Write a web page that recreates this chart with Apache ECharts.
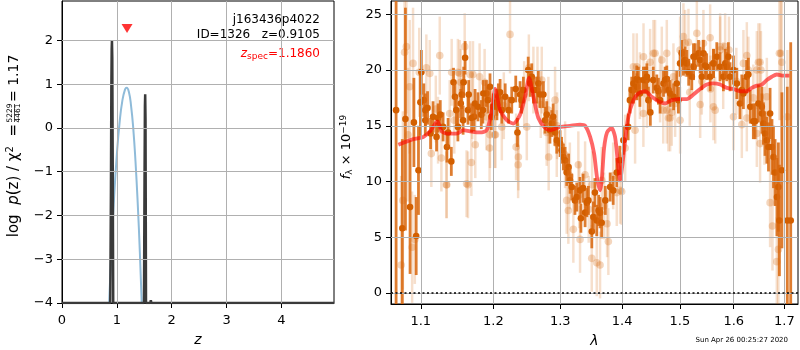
<!DOCTYPE html>
<html>
<head>
<meta charset="utf-8">
<script src="https://cdn.jsdelivr.net/npm/echarts@6/dist/echarts.min.js"></script>
<style>
html, body { margin: 0; padding: 0; background: #fff; }
#chart { width: 800px; height: 350px; }
</style>
</head>
<body>
<div id="chart"></div>
<script>
// ---- redshift probability panel ----
const pzZ   = [0, 0.88, 0.892, 0.9, 0.906, 0.911, 0.917, 0.924, 0.934, 1.495, 1.505, 1.512, 1.517, 1.523, 1.532, 1.61, 1.62, 1.63, 4.96];
const pzLog = [-4, -4, -1.5, 0.9, 1.8, 2.0, 1.6, -0.5, -4, -4, -1.2, 0.5, 0.77, 0.2, -4, -4, -3.94, -4, -4];
const priorZ   = [0.86, 0.9, 0.95, 1.0, 1.05, 1.1, 1.15, 1.18, 1.22, 1.26, 1.3, 1.34, 1.38, 1.42, 1.454];
const priorLog = [-4.0, -2.78, -1.58, -0.61, 0.12, 0.62, 0.88, 0.92, 0.82, 0.5, -0.02, -0.76, -1.7, -2.85, -4.0];
const zSpec = 1.186;
const zSpecMarkerY = 2.27;
const zTicks = [0, 1, 2, 3, 4];
const logpTicks = [-4, -3, -2, -1, 0, 1, 2];

// ---- 1D spectrum panel ----
const waveTicks = [1.1, 1.2, 1.3, 1.4, 1.5, 1.6, 1.7];
const fluxTicks = [0, 5, 10, 15, 20, 25];

// well-measured pixels: wavelength (micron), flux, 1-sigma error
const darkWave = [
  1.068, 1.076, 1.080, 1.086, 1.091, 1.094, 1.097, 1.0995, 1.1008, 1.104, 1.106, 1.1061, 1.109, 1.113, 1.1163, 1.121, 1.1230, 1.126, 1.1298, 1.135, 1.1366, 1.141, 1.144, 1.146, 1.1479, 1.150, 1.154, 1.1553, 1.1572, 1.158, 1.160, 1.1640, 1.165, 1.169, 1.1725, 1.1739, 1.178, 1.1827, 1.185, 1.1856, 1.1899, 1.192, 1.1951, 1.197, 1.1997,
  1.2048, 1.205, 1.2071, 1.2096, 1.2121, 1.217, 1.222, 1.2266, 1.2325, 1.235, 1.2389, 1.241, 1.2438, 1.251, 1.254, 1.2563, 1.2588, 1.264, 1.2663, 1.2689, 1.274, 1.2765, 1.2791, 1.284, 1.2868, 1.289, 1.2919, 1.2945, 1.2997, 1.302, 1.3048, 1.3075, 1.3101, 1.313, 1.3153, 1.318, 1.323, 1.3259, 1.331, 1.3325, 1.336, 1.3392, 1.342, 1.3445, 1.350, 1.3526, 1.355, 1.3580, 1.361, 1.3634, 1.366,
  1.372, 1.380, 1.385, 1.391, 1.396, 1.402, 1.410, 1.413, 1.4161, 1.4189, 1.419, 1.4247, 1.425, 1.4274, 1.430, 1.436, 1.4389, 1.4418, 1.442, 1.4446, 1.448, 1.453, 1.4592, 1.462, 1.4650, 1.471, 1.4738, 1.4768, 1.480, 1.4827, 1.489, 1.4946, 1.4975, 1.5005, 1.5035, 1.5065, 1.5096, 1.5127, 1.516, 1.5217, 1.5247, 1.525, 1.5278, 1.534, 1.5370, 1.540, 1.543, 1.5462, 1.549, 1.5555, 1.5616, 1.562, 1.5679, 1.574, 1.5803, 1.584, 1.5868, 1.5898, 1.593, 1.5995, 1.606, 1.612, 1.6156, 1.6187, 1.625, 1.6284, 1.632, 1.638, 1.6415, 1.648, 1.6547, 1.655, 1.6579, 1.661, 1.6647, 1.668, 1.6712, 1.675, 1.678, 1.6812, 1.685, 1.6879, 1.690, 1.695, 1.706, 1.713];
const darkFlux = [
  16.4, 5.8, 15.6, 7.7, 15.3, 5.1, 11.0, 17.1, 19.8, 17.3, 15.5, 16.4, 16.6, 14.3, 15.8, 14.0, 15.7, 16.0, 14.9, 13.1, 14.4, 11.8, 18.9, 17.6, 16.4, 14.9, 17.0, 17.8, 15.5, 18.9, 21.1, 16.4, 17.8, 15.7, 15.8, 17.0, 16.7, 16.0, 16.4, 17.9, 17.9, 17.3, 18.5, 15.8, 16.7,
  17.1, 16.7, 17.6, 18.0, 16.4, 17.6, 16.4, 17.3, 18.3, 14.4, 17.8, 17.3, 18.2, 20.0, 18.8, 19.4, 18.2, 18.2, 18.8, 17.8, 17.8, 15.5, 16.0, 14.6, 15.2, 15.8, 14.4, 13.7, 13.4, 12.8, 12.2, 11.9, 10.8, 11.3, 10.1, 9.5, 8.3, 8.6, 9.2, 6.7, 9.4, 7.2, 8.1, 8.3, 5.5, 6.8, 9.0, 6.5, 7.4, 7.2, 6.3,
  8.3, 9.5, 9.2, 10.8, 11.9, 13.7, 14.9, 17.3, 18.2, 18.2, 18.8, 19.2, 18.5, 19.1, 17.9, 19.1, 19.1, 19.1, 19.4, 17.3, 16.2, 19.1, 18.4, 18.1, 17.3, 18.8, 19.1, 19.2, 18.2, 17.9, 17.6, 18.8, 17.3, 20.6, 21.5, 20.7, 20.9, 20.6, 19.8, 19.4, 21.2, 20.3, 21.2, 21.5, 20.9, 19.4, 21.5, 20.4, 20.3, 19.4, 20.6, 20.6, 21.2, 20.3, 19.4, 20.6, 20.3, 21.2, 19.4, 20.0, 18.8, 17.0, 18.2, 17.9, 19.4, 19.6, 16.7, 15.4, 15.4, 17.0, 16.7, 16.1, 15.2, 14.3, 13.7, 13.1, 16.1, 13.1, 12.2, 10.8, 8.6, 9.5, 6.5, 11.0, 6.5, 6.5];
const darkErr = [
  20, 8, 10, 6, 4, 3.5, 4, 3, 2, 1.5, 1.4, 1.5, 1.5, 1.4, 1.4, 1.3, 1.3, 1.3, 1.3, 1.4, 1.3, 1.3, 1.3, 1.3, 1.3, 1.3, 1.3, 1.3, 1.3, 1.4, 1.5, 1.3, 1.3, 1.3, 1.3, 1.3, 1.3, 1.3, 1.2, 1.2, 1.2, 1.2, 1.2, 1.2, 1.2,
  1.2, 1.2, 1.2, 1.2, 1.2, 1.2, 1.2, 1.2, 1.2, 1.3, 1.2, 1.2, 1.2, 1.2, 1.2, 1.2, 1.2, 1.2, 1.2, 1.2, 1.2, 1.2, 1.2, 1.2, 1.2, 1.2, 1.2, 1.2, 1.2, 1.2, 1.2, 1.2, 1.2, 1.2, 1.2, 1.2, 1.3, 1.3, 1.2, 1.3, 1.3, 1.3, 1.3, 1.3, 1.5, 1.4, 1.3, 1.4, 1.4, 1.4, 1.4,
  1.3, 1.3, 1.3, 1.3, 1.3, 1.3, 1.2, 1.2, 1.2, 1.2, 1.2, 1.2, 1.2, 1.2, 1.2, 1.2, 1.2, 1.2, 1.2, 1.2, 1.2, 1.2, 1.2, 1.2, 1.2, 1.2, 1.2, 1.2, 1.2, 1.2, 1.2, 1.2, 1.2, 1.2, 1.2, 1.2, 1.2, 1.2, 1.2, 1.2, 1.2, 1.2, 1.2, 1.2, 1.2, 1.2, 1.2, 1.2, 1.2, 1.3, 1.3, 1.3, 1.3, 1.3, 1.3, 1.3, 1.3, 1.3, 1.3, 1.3, 1.4, 1.4, 1.4, 1.4, 1.5, 1.5, 1.5, 1.6, 1.6, 1.7, 1.8, 1.8, 1.9, 2.0, 2.1, 2.2, 2.3, 2.5, 2.8, 3.0, 3.5, 4.0, 5, 7, 12, 16];

// noisier pixels from the second visit
const lightWave = [1.0745, 1.0767, 1.0789, 1.0812, 1.0834, 1.0855, 1.0887, 1.0899, 1.0922, 1.0980, 1.1074, 1.1119, 1.1140, 1.1200, 1.1230, 1.1253, 1.1275, 1.1342, 1.1348, 1.1388, 1.1415, 1.1450, 1.1500, 1.1525, 1.1540, 1.1594, 1.1620, 1.1640, 1.1669, 1.1687, 1.1700, 1.1710, 1.1742, 1.1803, 1.1874, 1.1900, 1.1945, 1.1951, 1.2017, 1.2030, 1.2121, 1.2150, 1.2241, 1.2330, 1.2360, 1.2364, 1.2450, 1.2489, 1.2520, 1.2588, 1.2650, 1.2700, 1.2715, 1.2790, 1.2816, 1.2820, 1.2919, 1.2945, 1.2950, 1.3075, 1.3100, 1.3126, 1.3150, 1.3205, 1.3284, 1.3300, 1.3311, 1.3392, 1.3450, 1.3499, 1.3505, 1.3580, 1.3634, 1.3662, 1.3700, 1.3749, 1.3770, 1.3850, 1.3909, 1.3964, 1.3992, 1.4050, 1.4189, 1.4218, 1.4247, 1.4300, 1.4360, 1.4362, 1.4420, 1.4476, 1.4533, 1.4562, 1.4650, 1.4680, 1.4705, 1.4768, 1.4768, 1.4797, 1.4827, 1.4856, 1.4886, 1.4916, 1.5005, 1.5005, 1.5065, 1.5096, 1.5156, 1.5180, 1.5309, 1.5370, 1.5400, 1.5430, 1.5555, 1.5560, 1.5616, 1.5649, 1.5742, 1.5742, 1.5800, 1.5836, 1.5910, 1.5995, 1.6050, 1.6156, 1.6187, 1.6253, 1.6253, 1.6284, 1.6380, 1.6449, 1.6449, 1.6480, 1.6513, 1.6513, 1.6530, 1.6600, 1.6647, 1.6712, 1.6760, 1.6847, 1.6879, 1.6899, 1.6927, 1.6948, 1.7062];
const lightFlux = [2.5, 8.3, 21.6, 22.1, 14.2, 18.5, 4.1, 20.6, 4.8, 19.8, 20.2, 19.7, 12.5, 16.5, 14.6, 21.3, 12.1, 9.7, 9.7, 16.1, 19.8, 15.5, 19.8, 19.7, 18.9, 22.1, 9.8, 9.7, 19.6, 11.7, 16.8, 19.6, 13.3, 19.4, 18.9, 15.8, 13.0, 14.2, 14.2, 14.2, 14.9, 16.8, 23.2, 13.1, 11.5, 12.2, 17.8, 14.9, 20.2, 19.1, 19.1, 16.9, 19.1, 14.4, 16.4, 12.2, 17.3, 13.4, 15.0, 12.4, 8.3, 7.4, 10.5, 5.7, 11.5, 8.8, 4.8, 10.6, 7.5, 3.1, 9.7, 2.7, 2.5, 10.1, 7.8, 6.2, 4.6, 10.5, 9.0, 9.2, 9.1, 13.0, 20.3, 14.6, 20.3, 18.6, 16.1, 21.2, 17.8, 20.7, 21.5, 21.5, 18.3, 20.9, 16.4, 21.5, 16.4, 15.7, 15.7, 16.2, 19.4, 17.0, 15.5, 21.8, 23.0, 22.4, 22.5, 18.0, 23.3, 16.9, 19.0, 22.4, 22.9, 18.3, 16.7, 16.4, 21.8, 22.1, 19.5, 22.1, 21.8, 15.8, 19.0, 15.1, 20.6, 21.3, 15.7, 20.0, 17.5, 14.3, 20.0, 20.7, 13.4, 20.7, 20.0, 15.0, 17.6, 8.1, 6.0, 2.8, 3.9, 21.5, 21.5, 20.7, 15.8];
const lightErr = [8, 8, 8, 6, 6, 6, 5, 5, 4, 4, 3, 3, 3, 3, 3, 3.5, 3, 3, 3, 3, 3, 3, 3, 3, 3, 3, 3, 3, 3, 3, 3, 3, 3, 3, 3, 3, 3, 3, 3, 3, 3, 3, 3.5, 3, 3, 3, 3, 3, 3, 3, 3, 3, 3, 3, 3, 3, 3, 3, 3, 3, 3, 3, 3, 3, 3, 3, 3, 3, 3, 3, 3, 3, 3, 3, 3, 3, 3, 3, 3, 3, 3, 3, 3, 3, 3, 3, 3, 3, 3, 3, 3, 3, 3, 3, 3, 3, 3, 3, 3, 3, 3, 3, 3, 3, 3, 3, 3, 3, 3, 3, 3, 3, 3, 3, 3, 3, 3, 3, 3, 3, 3, 3, 3, 3, 3, 3, 3, 3, 3, 3, 3.5, 3.5, 3.5, 3.5, 3.5, 3.5, 3.5, 4, 4, 4, 5, 6, 6, 7, 6, 8, 10];

// best-fit template
const modelWave = [1.0709, 1.0903, 1.1034, 1.1123, 1.1221, 1.1280, 1.1348, 1.1485, 1.1576, 1.1669, 1.1809, 1.1905, 1.1976, 1.2024, 1.2096, 1.2193, 1.2290, 1.2389, 1.2463, 1.2523, 1.2588, 1.2663, 1.2765, 1.2842, 1.2997, 1.3153, 1.3311, 1.3392, 1.3473, 1.3537, 1.3586, 1.3634, 1.3667, 1.3700, 1.3749, 1.3823, 1.3881, 1.3931, 1.3964, 1.4006, 1.4049, 1.4104, 1.4189, 1.4274, 1.4389, 1.4505, 1.4620, 1.4738, 1.4856, 1.5005, 1.5127, 1.5247, 1.5370, 1.5493, 1.5616, 1.5742, 1.5868, 1.5995, 1.6123, 1.6253, 1.6350, 1.6449, 1.6547, 1.6647, 1.6746, 1.6847, 1.6981, 1.7104];
const modelFlux = [13.3, 13.8, 14.0, 14.5, 15.4, 14.5, 14.3, 14.3, 14.6, 14.5, 14.4, 14.6, 16.4, 18.3, 16.4, 15.5, 15.2, 16.0, 17.6, 19.3, 17.6, 15.7, 14.8, 14.6, 14.9, 15.0, 15.1, 15.0, 14.0, 12.5, 10.3, 9.2, 10.5, 13.0, 14.4, 14.8, 14.0, 11.5, 10.1, 11.6, 13.7, 15.8, 17.3, 17.9, 18.1, 17.6, 17.2, 17.0, 17.3, 17.4, 17.4, 17.8, 18.3, 18.7, 18.8, 18.7, 18.4, 18.3, 18.1, 18.1, 18.4, 18.6, 18.7, 19.1, 19.4, 19.6, 19.5, 19.5];

const FONT = 'DejaVu Sans';
const ORANGE = '#d35f00';
const GRID_GRAY = '#b0b0b0';

function fmtMinus(v) {
  return v < 0 ? '\u2212' + Math.abs(v) : String(v);
}

function zip3(a, b, c) {
  return a.map((v, i) => [v, b[i], c[i]]);
}

// point with vertical error bar, positioned through the axis scales
function errorBarItem(barColor, barOpacity, barWidth, dotColor, dotOpacity, radius) {
  return function (params, api) {
    const x = api.value(0), y = api.value(1), e = api.value(2);
    const c = api.coord([x, y]);
    const hi = api.coord([x, y + e]);
    const lo = api.coord([x, y - e]);
    return {
      type: 'group',
      children: [
        { type: 'line', shape: { x1: c[0], y1: hi[1], x2: c[0], y2: lo[1] },
          style: { stroke: barColor, lineWidth: barWidth, opacity: barOpacity } },
        { type: 'circle', shape: { cx: c[0], cy: c[1], r: radius },
          style: { fill: dotColor, opacity: dotOpacity } }
      ]
    };
  };
}

// gray reference lines at the tick positions of one panel
function gridLineSeries(xIdx, yIdx, xVals, yVals) {
  return {
    type: 'line', xAxisIndex: xIdx, yAxisIndex: yIdx, data: [], z: 1, silent: true,
    markLine: {
      silent: true, symbol: 'none', animation: false,
      label: { show: false },
      lineStyle: { color: GRID_GRAY, type: 'solid', width: 1, opacity: 1 },
      emphasis: { disabled: true },
      data: xVals.map(v => ({ xAxis: v })).concat(yVals.map(v => ({ yAxis: v })))
    }
  };
}

const axisCommon = {
  axisLine: { show: true, onZero: false, lineStyle: { color: '#000', width: 1 } },
  splitLine: { show: false }
};

function tickCfg(values) {
  return { show: true, inside: false, length: 5, lineStyle: { color: '#000', width: 1 }, customValues: values };
}
function labelCfg(values, margin, formatter) {
  return { customValues: values, margin: margin, color: '#000', fontSize: 13, fontFamily: FONT, formatter: formatter };
}

const chart = echarts.init(document.getElementById('chart'), null, { renderer: 'canvas' });

const gridBase = {
  show: true, borderColor: '#000', borderWidth: 1, backgroundColor: 'rgba(0,0,0,0)',
  containLabel: false, outerBoundsMode: 'none'
};

const option = {
  animation: false,
  backgroundColor: '#fff',
  grid: [
    Object.assign({ left: 62, top: 1, width: 272, height: 302 }, gridBase),
    Object.assign({ left: 391, top: 1, width: 407, height: 303 }, gridBase)
  ],
  xAxis: [
    Object.assign({}, axisCommon, {
      gridIndex: 0, type: 'value', min: 0, max: 4.96, position: 'bottom',
      axisTick: tickCfg(zTicks),
      axisLabel: labelCfg(zTicks, 11, v => fmtMinus(v)),
      name: 'z', nameLocation: 'middle', nameGap: 30,
      nameTextStyle: { fontStyle: 'italic', fontSize: 14, fontFamily: FONT, color: '#000' }
    }),
    Object.assign({}, axisCommon, {
      gridIndex: 1, type: 'log', logBase: 10, min: 1.0615, max: 1.728, position: 'bottom',
      axisTick: tickCfg(waveTicks),
      axisLabel: labelCfg(waveTicks, 11, v => (Math.round(v * 10) / 10).toFixed(1)),
      name: '\u03bb', nameLocation: 'middle', nameGap: 30,
      nameTextStyle: { fontStyle: 'italic', fontSize: 14, fontFamily: FONT, color: '#000' }
    })
  ],
  yAxis: [
    Object.assign({}, axisCommon, {
      gridIndex: 0, type: 'value', min: -4, max: 2.9, position: 'left',
      axisTick: tickCfg(logpTicks),
      axisLabel: labelCfg(logpTicks, 9, v => fmtMinus(v))
    }),
    Object.assign({}, axisCommon, {
      gridIndex: 1, type: 'value', min: -1.0, max: 26.2, position: 'left',
      axisTick: tickCfg(fluxTicks),
      axisLabel: labelCfg(fluxTicks, 9, v => fmtMinus(v))
    })
  ],
  series: [
    gridLineSeries(0, 0, zTicks.filter(v => v > 0), logpTicks.filter(v => v > -4)),
    gridLineSeries(1, 1, waveTicks, fluxTicks),
    {
      name: 'prior', type: 'line', xAxisIndex: 0, yAxisIndex: 0, smooth: true,
      showSymbol: false, symbol: 'none',
      lineStyle: { color: '#8fbbd9', width: 2 },
      data: priorZ.map((z, i) => [z, priorLog[i]]), z: 2
    },
    {
      name: 'pz', type: 'line', xAxisIndex: 0, yAxisIndex: 0,
      showSymbol: false, symbol: 'none',
      lineStyle: { color: '#3a3a3a', width: 2.5 },
      data: pzZ.map((z, i) => [z, pzLog[i]]), z: 3
    },
    {
      name: 'zspec', type: 'scatter', xAxisIndex: 0, yAxisIndex: 0,
      symbol: 'triangle', symbolRotate: 180, symbolSize: [11, 9],
      itemStyle: { color: '#ff0000' },
      data: [[zSpec, zSpecMarkerY]], z: 4
    },
    {
      name: 'light', type: 'custom', xAxisIndex: 1, yAxisIndex: 1, clip: true,
      renderItem: errorBarItem(ORANGE, 0.2, 2.5, ORANGE, 0.26, 3.8),
      data: zip3(lightWave, lightFlux, lightErr), z: 2
    },
    {
      name: 'dark', type: 'custom', xAxisIndex: 1, yAxisIndex: 1, clip: true,
      renderItem: errorBarItem('#d8660c', 0.85, 2.8, ORANGE, 1, 3.3),
      data: zip3(darkWave, darkFlux, darkErr), z: 3
    },
    {
      name: 'model', type: 'line', xAxisIndex: 1, yAxisIndex: 1, smooth: 0.25,
      showSymbol: false, symbol: 'none',
      lineStyle: { color: '#ff0000', width: 3.8, opacity: 0.6 },
      data: modelWave.map((w, i) => [w, modelFlux[i]]), z: 4,
      markLine: {
        silent: true, symbol: 'none', label: { show: false },
        lineStyle: { color: '#000', type: [2, 2.5], width: 1.5, opacity: 1 },
        data: [{ yAxis: 0 }]
      }
    }
  ],
  graphic: [
    { type: 'text', x: 320, y: 20, style: { text: 'j163436p4022', font: '12px "DejaVu Sans"', fill: '#000', align: 'right', verticalAlign: 'middle' } },
    { type: 'text', x: 320, y: 35, style: { text: 'ID=1326   z=0.9105', font: '12px "DejaVu Sans"', fill: '#000', align: 'right', verticalAlign: 'middle' } },
    { type: 'text', x: 320, y: 54, style: {
        text: '{i|z}{sub|spec}{n|=1.1860}', align: 'right', verticalAlign: 'middle', fill: '#ff0000',
        rich: {
          i: { fontSize: 12, fontFamily: FONT, fontStyle: 'italic', lineHeight: 14, fill: '#ff0000' },
          sub: { fontSize: 9, fontFamily: FONT, lineHeight: 8, verticalAlign: 'bottom', fill: '#ff0000' },
          n: { fontSize: 12, fontFamily: FONT, lineHeight: 14, fill: '#ff0000' }
        } } },
    {
      type: 'group', x: 14, y: 240, rotation: Math.PI / 2,
      children: [
        { type: 'text', x: 116, y: 0, style: {
            text: '{n|log  }{i|p}{n|(z) / \u03c7}{sup|2}{n|  =}', align: 'right', verticalAlign: 'middle',
            rich: {
              n: { fontSize: 15, fontFamily: FONT, lineHeight: 17, fill: '#000' },
              i: { fontSize: 15, fontFamily: FONT, fontStyle: 'italic', lineHeight: 17, fill: '#000' },
              sup: { fontSize: 10, fontFamily: FONT, lineHeight: 9, verticalAlign: 'top', fill: '#000' }
            } } },
        { type: 'text', x: 127, y: -3.5, style: { text: '5229', font: '7.5px "DejaVu Sans"', fill: '#000', align: 'center', verticalAlign: 'middle' } },
        { type: 'line', shape: { x1: 118, y1: 0.5, x2: 136, y2: 0.5 }, style: { stroke: '#000', lineWidth: 0.7 } },
        { type: 'text', x: 127, y: 4.5, style: { text: '4461', font: '7.5px "DejaVu Sans"', fill: '#000', align: 'center', verticalAlign: 'middle' } },
        { type: 'text', x: 138, y: 0, style: { text: '= 1.17', font: '14px "DejaVu Sans"', fill: '#000', align: 'left', verticalAlign: 'middle' } }
      ]
    },
    { type: 'text', x: 347, y: 147, rotation: Math.PI / 2, style: {
        text: '{i|f}{sub|\u03bb}{n| \u00d7 10}{sup|\u221219}', align: 'center', verticalAlign: 'middle',
        rich: {
          i: { fontSize: 13, fontFamily: FONT, fontStyle: 'italic', lineHeight: 15, fill: '#000' },
          n: { fontSize: 13, fontFamily: FONT, lineHeight: 15, fill: '#000' },
          sub: { fontSize: 9, fontFamily: FONT, lineHeight: 9, verticalAlign: 'bottom', fill: '#000' },
          sup: { fontSize: 9, fontFamily: FONT, lineHeight: 9, verticalAlign: 'top', fill: '#000' }
        } } },
    { type: 'text', x: 788, y: 340, style: { text: 'Sun Apr 26 00:25:27 2020', font: '7px "DejaVu Sans"', fill: '#000', align: 'right', verticalAlign: 'middle' } }
  ]
};

chart.setOption(option);
</script>
</body>
</html>
